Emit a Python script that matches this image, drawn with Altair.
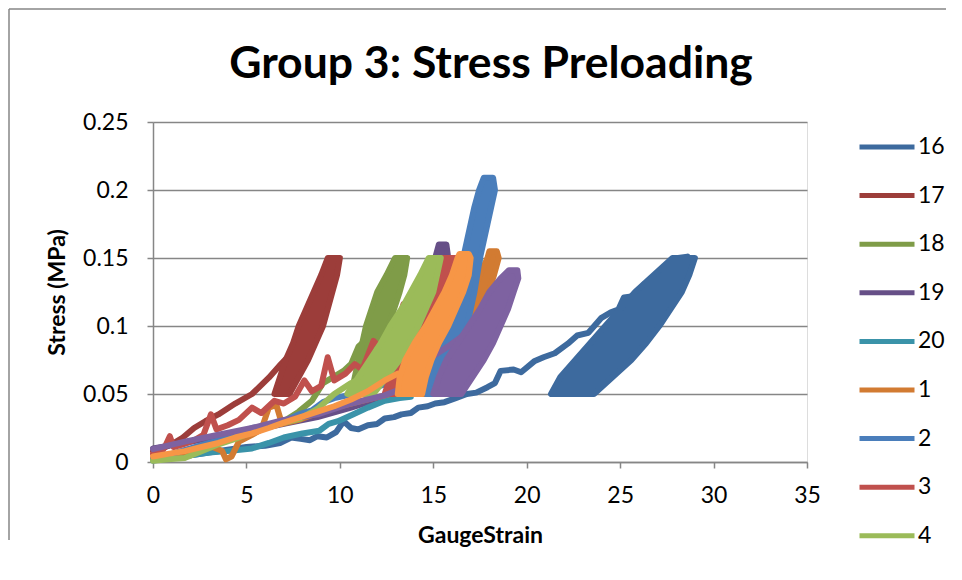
import altair as alt
import pandas as pd

SERIES = ["16", "17", "18", "19", "20", "1", "2", "3", "4", "5", "6"]
COLORS = ["#3D6A9E", "#9C3D3A", "#7F9C48", "#664F87", "#3A93A9", "#D27B32",
          "#4A7EBB", "#C0504D", "#9BBB59", "#7E62A1", "#F79646"]
LEGEND_SHOWN = ["16", "17", "18", "19", "20", "1", "2", "3", "4"]
TITLE = "Group 3: Stress Preloading"

X_TICKS = [0, 5, 10, 15, 20, 25, 30, 35]
Y_TICKS = [0, 0.05, 0.1, 0.15, 0.2, 0.25]

LEVELS = [0.05, 0.0625, 0.075, 0.0875, 0.1, 0.1125, 0.125, 0.1375, 0.15]

# ---- initial loading curves (strain, stress) ----
S16_X = [0, 1, 2, 3, 4, 5, 6, 6.8, 7.4, 7.9, 8.4, 8.8, 9.3, 9.8, 10.2, 10.6, 11.0, 11.5, 12.0, 12.4, 12.9,
         13.3, 13.8, 14.2, 14.7, 15.1, 15.6, 16.2, 16.8, 17.3, 17.9, 18.3, 18.6, 19.3, 19.7, 20.4, 20.9,
         21.5, 22.2, 22.7, 23.3, 24.0, 24.5, 24.9, 25.2, 25.8, 26.3, 26.8, 27.6, 28.1, 28.6]
S16_Y = [0.002, 0.003, 0.005, 0.007, 0.009, 0.011, 0.012, 0.014, 0.018, 0.017, 0.016, 0.019, 0.018, 0.022,
         0.030, 0.025, 0.024, 0.027, 0.028, 0.032, 0.033, 0.035, 0.036, 0.040, 0.041, 0.043, 0.044, 0.047,
         0.050, 0.051, 0.055, 0.058, 0.067, 0.068, 0.066, 0.074, 0.077, 0.080, 0.087, 0.093, 0.095, 0.106,
         0.110, 0.112, 0.121, 0.122, 0.131, 0.133, 0.143, 0.150, 0.151]
S17_X = [0, 0.5, 1.0, 1.6, 2.2, 2.8, 3.5, 4.4, 5.3, 6.2, 6.85, 7.4]
S17_Y = [0.008, 0.010, 0.013, 0.018, 0.025, 0.030, 0.035, 0.043, 0.050, 0.062, 0.072, 0.080]
S18_X = [0, 1, 2, 3, 4, 5, 6, 7, 7.8, 8.5, 9.1, 9.6, 10.2, 10.6, 11.0, 11.4, 11.8]
S18_Y = [0.003, 0.005, 0.008, 0.012, 0.016, 0.020, 0.025, 0.030, 0.037, 0.045, 0.058, 0.062, 0.067, 0.072,
         0.085, 0.090, 0.104]
S19_X = [0, 1.7, 3.5, 5.3, 7.0, 8.8, 10.6, 12.0, 12.9]
S19_Y = [0.010, 0.014, 0.019, 0.023, 0.028, 0.033, 0.040, 0.046, 0.050]
S20_X = [0, 1, 2, 3, 4, 5.3, 6.2, 7.0, 8.0, 8.9, 9.4, 9.9, 10.7, 11.5, 12.4, 13.2, 13.8]
S20_Y = [0.001, 0.003, 0.005, 0.007, 0.008, 0.010, 0.014, 0.018, 0.021, 0.023, 0.028, 0.030, 0.035, 0.040,
         0.045, 0.047, 0.048]
S1_X = [0, 0.8, 1.6, 2.4, 3.2, 3.7, 3.9, 4.2, 4.6, 5.3, 5.8, 6.2, 6.6, 6.9, 7.8, 8.8, 9.7, 10.6, 11.5, 12.4,
        13.2, 14.0, 14.4]
S1_Y = [0.003, 0.005, 0.007, 0.009, 0.011, 0.008, 0.002, 0.004, 0.015, 0.020, 0.024, 0.040, 0.042, 0.028,
        0.031, 0.036, 0.040, 0.043, 0.046, 0.049, 0.052, 0.055, 0.056]
S2_X = [0, 1, 2, 3, 4, 5.3, 6.2, 7.0, 7.8, 8.5, 9.1, 9.7, 10.4, 11.0, 11.7, 12.4, 13.2, 14.0, 14.6]
S2_Y = [0.003, 0.006, 0.010, 0.014, 0.018, 0.025, 0.027, 0.030, 0.035, 0.038, 0.044, 0.047, 0.049, 0.052,
        0.054, 0.057, 0.060, 0.062, 0.063]
S3_X = [0, 0.5, 0.7, 0.9, 1.1, 1.6, 2.2, 2.7, 3.1, 3.4, 4.0, 4.6, 5.3, 5.8, 6.5, 7.0, 7.6, 8.1, 8.5, 9.0,
        9.35, 9.7, 10.3, 10.8, 11.2, 11.8, 12.3, 12.8, 13.1, 13.4, 13.8, 14.2]
S3_Y = [0.006, 0.008, 0.013, 0.019, 0.011, 0.013, 0.016, 0.020, 0.035, 0.024, 0.027, 0.031, 0.040, 0.036,
        0.045, 0.043, 0.048, 0.060, 0.052, 0.056, 0.077, 0.060, 0.065, 0.072, 0.068, 0.089, 0.082, 0.095,
        0.101, 0.116, 0.108, 0.115]
S4_X = [0, 0.8, 1.7, 2.6, 3.5, 4.4, 5.3, 6.2, 7.0, 7.9, 8.8, 9.7, 10.6, 11.2]
S4_Y = [0.001, 0.002, 0.003, 0.008, 0.013, 0.017, 0.022, 0.026, 0.029, 0.032, 0.039, 0.050, 0.058, 0.062]
S5_X = [0, 1.7, 3.5, 5.3, 7.0, 8.8, 10.6, 12.4, 13.5, 14.3, 15.0, 15.8, 16.5, 17.2, 17.9, 18.4, 18.9, 19.2]
S5_Y = [0.0095, 0.015, 0.020, 0.025, 0.031, 0.035, 0.043, 0.049, 0.055, 0.065, 0.078, 0.085, 0.092, 0.098,
        0.106, 0.115, 0.125, 0.133]
S6_X = [0, 0.8, 1.7, 2.6, 3.5, 4.4, 5.3, 6.2, 7.0, 7.9, 8.8, 9.7, 10.6, 11.5, 12.4, 13.1]
S6_Y = [0.004, 0.006, 0.008, 0.011, 0.014, 0.018, 0.021, 0.025, 0.029, 0.033, 0.037, 0.041, 0.046, 0.052,
        0.060, 0.065]

# ---- cyclic preload bands: stress level, left strain, right strain ----
B16_Y = LEVELS
B16_L = [21.3, 21.8, 22.6, 23.4, 24.2, 25.0, 25.8, 26.8, 27.8]
B16_R = [23.6, 24.6, 25.6, 26.4, 27.1, 27.7, 28.3, 28.7, 29.0]
B17_Y = LEVELS
B17_L = [6.5, 6.8, 7.1, 7.5, 7.8, 8.2, 8.6, 9.0, 9.35]
B17_R = [7.3, 7.8, 8.3, 8.7, 9.1, 9.35, 9.6, 9.85, 10.0]
B18_Y = LEVELS
B18_L = [10.6, 10.8, 11.0, 11.2, 11.4, 11.7, 12.0, 12.5, 12.95]
B18_R = [11.4, 11.7, 12.0, 12.3, 12.6, 12.9, 13.2, 13.45, 13.6]
B19_Y = LEVELS + [0.16]
B19_L = [12.9, 13.1, 13.4, 13.7, 14.0, 14.3, 14.6, 14.9, 15.1, 15.3]
B19_R = [13.9, 14.2, 14.5, 14.8, 15.0, 15.2, 15.4, 15.6, 15.8, 15.7]
B20_Y = LEVELS
B20_L = [14.0, 14.4, 14.8, 15.2, 15.6, 16.0, 16.3, 16.6, 16.8]
B20_R = [15.2, 15.7, 16.2, 16.6, 16.9, 17.1, 17.3, 17.4, 17.5]
B1_Y = LEVELS + [0.155]
B1_L = [14.2, 14.6, 15.1, 15.6, 16.1, 16.6, 17.1, 17.5, 17.9, 18.0]
B1_R = [15.1, 15.7, 16.3, 16.9, 17.4, 17.7, 17.95, 18.25, 18.5, 18.4]
B2_Y = LEVELS + [0.1625, 0.175, 0.1875, 0.2, 0.209]
B2_L = [14.6, 14.9, 15.2, 15.5, 15.8, 16.0, 16.2, 16.4, 16.6, 16.8, 17.0, 17.2, 17.45, 17.7]
B2_R = [15.6, 15.9, 16.3, 16.6, 16.8, 17.0, 17.2, 17.35, 17.5, 17.7, 17.9, 18.1, 18.3, 18.2]
B3_Y = LEVELS
B3_L = [12.4, 12.7, 13.0, 13.4, 13.8, 14.2, 14.6, 15.0, 15.4]
B3_R = [13.4, 13.8, 14.2, 14.6, 15.0, 15.3, 15.6, 15.95, 16.3]
B4_Y = LEVELS
B4_L = [10.4, 11.0, 11.6, 12.2, 12.7, 13.3, 13.8, 14.3, 14.75]
B4_R = [11.8, 12.5, 13.2, 13.7, 14.2, 14.6, 15.0, 15.2, 15.4]
B5_Y = [0.05, 0.0625, 0.075, 0.0875, 0.1, 0.1125, 0.125, 0.135, 0.141]
B5_L = [15.0, 15.3, 15.7, 16.3, 16.9, 17.5, 18.0, 18.6, 19.05]
B5_R = [16.5, 17.1, 17.7, 18.2, 18.6, 19.0, 19.3, 19.55, 19.5]
B6_Y = LEVELS + [0.153]
B6_L = [13.1, 13.2, 13.5, 14.0, 14.6, 15.1, 15.6, 16.0, 16.3, 16.4]
B6_R = [14.4, 14.6, 14.9, 15.3, 15.8, 16.2, 16.6, 16.9, 17.0, 16.9]

LOADS = {"16": (S16_X, S16_Y), "17": (S17_X, S17_Y), "18": (S18_X, S18_Y), "19": (S19_X, S19_Y),
         "20": (S20_X, S20_Y), "1": (S1_X, S1_Y), "2": (S2_X, S2_Y), "3": (S3_X, S3_Y),
         "4": (S4_X, S4_Y), "5": (S5_X, S5_Y), "6": (S6_X, S6_Y)}
BANDS = {"16": (B16_Y, B16_L, B16_R), "17": (B17_Y, B17_L, B17_R), "18": (B18_Y, B18_L, B18_R),
         "19": (B19_Y, B19_L, B19_R), "20": (B20_Y, B20_L, B20_R), "1": (B1_Y, B1_L, B1_R),
         "2": (B2_Y, B2_L, B2_R), "3": (B3_Y, B3_L, B3_R), "4": (B4_Y, B4_L, B4_R),
         "5": (B5_Y, B5_L, B5_R), "6": (B6_Y, B6_L, B6_R)}

load_rows = []
for s in SERIES:
    xs, ys = LOADS[s]
    for i, (x, y) in enumerate(zip(xs, ys)):
        load_rows.append({"series": s, "i": i, "strain": x, "stress": y})
load_df = pd.DataFrame(load_rows)

band_rows = []
for s in SERIES:
    ys, ls, rs = BANDS[s]
    for y, l, r in zip(ys, ls, rs):
        band_rows.append({"series": s, "stress": y, "left": l, "right": r})
band_df = pd.DataFrame(band_rows)

FONT = "Lato"
GRAY = "#868686"
LW = 6

x_scale = alt.Scale(domain=[0, 35], nice=False, zero=False)
y_scale = alt.Scale(domain=[0, 0.25], nice=False, zero=False)
x_axis = alt.Axis(values=X_TICKS, title="GaugeStrain", grid=False, domainColor=GRAY, tickColor=GRAY,
                  domainWidth=1.5, tickWidth=1.5, tickSize=6, labelFontSize=23, labelColor="black",
                  labelPadding=16, labelFlush=False, titleFontSize=23, titleFontWeight="bold",
                  titleColor="black", titlePadding=17, labelFont=FONT, titleFont=FONT)
y_axis = alt.Axis(values=Y_TICKS, format="~g", title="Stress (MPa)", grid=True, gridColor=GRAY,
                  gridWidth=1.5, domainColor=GRAY, tickColor=GRAY, domainWidth=1.5, tickWidth=1.5,
                  tickSize=6, labelFontSize=23, labelColor="black", labelPadding=19, labelFlush=False,
                  titleFontSize=23, titleFontWeight="bold", titleColor="black", titlePadding=13,
                  labelFont=FONT, titleFont=FONT)

legend = alt.Legend(title=None, orient="none", legendX=704, legendY=-5, values=LEGEND_SHOWN,
                    symbolType="stroke", symbolStrokeWidth=5, symbolSize=3025, labelFontSize=23,
                    labelFont=FONT, labelColor="black", labelOffset=1, rowPadding=6.6, padding=0)

layers = []
for s, c in zip(SERIES, COLORS):
    band = alt.Chart(band_df).transform_filter(alt.datum.series == s).mark_area(
        orient="horizontal", color=c, stroke=c, strokeWidth=LW, strokeJoin="round", opacity=1
    ).encode(
        y=alt.Y("stress:Q", scale=y_scale, axis=y_axis),
        x=alt.X("left:Q", scale=x_scale, axis=x_axis),
        x2="right:Q",
    )
    line = alt.Chart(load_df).transform_filter(alt.datum.series == s).mark_line(
        strokeWidth=LW, strokeCap="round", strokeJoin="round"
    ).encode(
        x=alt.X("strain:Q", scale=x_scale, axis=x_axis),
        y=alt.Y("stress:Q", scale=y_scale, axis=y_axis),
        order="i:Q",
        color=alt.Color("series:N", scale=alt.Scale(domain=SERIES, range=COLORS), legend=legend),
    )
    layers += [line, band]

frame_src = pd.DataFrame({"k": [0]})
frame_left = alt.Chart(frame_src).mark_rule(color=GRAY, strokeWidth=1.5).encode(
    x=alt.value(-144), x2=alt.value(-144), y=alt.value(-113), y2=alt.value(418))
frame_top = alt.Chart(frame_src).mark_rule(color=GRAY, strokeWidth=1.5).encode(
    x=alt.value(-144), x2=alt.value(793), y=alt.value(-113), y2=alt.value(-113))
title_mark = alt.Chart(frame_src).mark_text(
    text=TITLE, font=FONT, fontSize=44.5, fontWeight="bold", color="black",
    align="center", baseline="alphabetic"
).encode(x=alt.value(338), y=alt.value(-44))

chart = alt.layer(frame_left, frame_top, title_mark, *layers).properties(
    width=654, height=340, padding=0,
).configure_view(stroke=None).configure(background="white")

chart.save("out.html", embed_options={"renderer": "svg", "actions": False})
